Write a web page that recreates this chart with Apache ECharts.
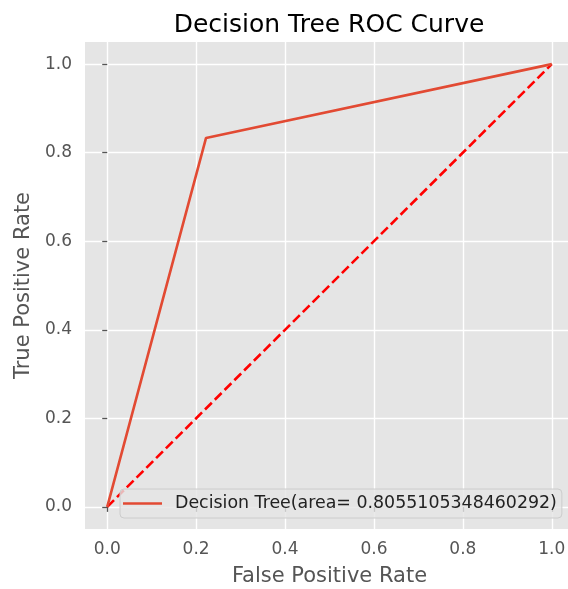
<!DOCTYPE html>
<html>
<head>
<meta charset="utf-8">
<script src="https://cdn.jsdelivr.net/npm/echarts@6/dist/echarts.min.js"></script>
<style>
html,body{margin:0;padding:0;background:#fff;}
#c{width:568px;height:589px;}
</style>
</head>
<body>
<div id="c"></div>
<script>
const titleText = 'Decision Tree ROC Curve';
const xName = 'False Positive Rate';
const yName = 'True Positive Rate';
const tickValues = [0, 0.2, 0.4, 0.6, 0.8, 1.0];
const rocFpr = [0, 0.2223, 1];
const rocTpr = [0, 0.8333, 1];
const diagX = [0, 1];
const diagY = [0, 1];
const rocName = 'Decision Tree(area= 0.8055105348460292)';

const chart = echarts.init(document.getElementById('c'), null, {renderer: 'canvas'});
const font = 'DejaVu Sans';
const axisCommon = {
  type: 'value', min: -0.05, max: 1.05, offset: 3,
  axisLine: {show: false},
  axisTick: {show: true, customValues: tickValues, length: 5, lineStyle: {color: '#555', width: 1.3}},
  axisLabel: {customValues: tickValues, color: '#555', fontSize: 17, fontFamily: font,
    formatter: v => Number(v).toFixed(1)},
  splitLine: {show: true, lineStyle: {color: '#fff', width: 1.4}},
  nameLocation: 'middle',
  nameTextStyle: {color: '#555', fontSize: 21, fontFamily: font}
};
chart.setOption({
  animation: false,
  title: {text: titleText, left: 329, top: 13, padding: 0, textAlign: 'center',
    textStyle: {color: '#000', fontSize: 25, fontWeight: 'normal', fontFamily: font}},
  grid: {left: 85, top: 42, width: 489, height: 487, show: true, backgroundColor: '#E5E5E5', borderWidth: 0,
    outerBoundsMode: 'none', containLabel: false},
  xAxis: Object.assign({}, axisCommon, {name: xName, nameGap: 34,
    axisLabel: Object.assign({}, axisCommon.axisLabel, {margin: 9})}),
  yAxis: Object.assign({}, axisCommon, {name: yName, nameGap: 47,
    axisLabel: Object.assign({}, axisCommon.axisLabel, {margin: 10})}),
  legend: {
    left: 120, top: 489, orient: 'horizontal',
    backgroundColor: 'rgba(229,229,229,0.8)', borderColor: '#CCCCCC', borderWidth: 1, borderRadius: 4,
    padding: [6, 5, 6, 3],
    itemWidth: 39, itemHeight: 2.6, itemGap: 10,
    textStyle: {color: '#222', fontSize: 17.4, fontFamily: font, padding: [0, 0, 0, 8]},
    data: [{name: rocName, icon: 'rect'}]
  },
  series: [
    {name: rocName, type: 'line', data: rocFpr.map((x, i) => [x, rocTpr[i]]), showSymbol: false,
      symbol: 'none', lineStyle: {color: '#E24A33', width: 2.6}, itemStyle: {color: '#E24A33'}},
    {name: 'diag', type: 'line', data: diagX.map((x, i) => [x, diagY[i]]), symbol: 'none',
      lineStyle: {color: '#FF0000', width: 2.6, type: [9.6, 4.2]}, itemStyle: {color: '#FF0000'}, z: 1}
  ]
});
</script>
</body>
</html>
